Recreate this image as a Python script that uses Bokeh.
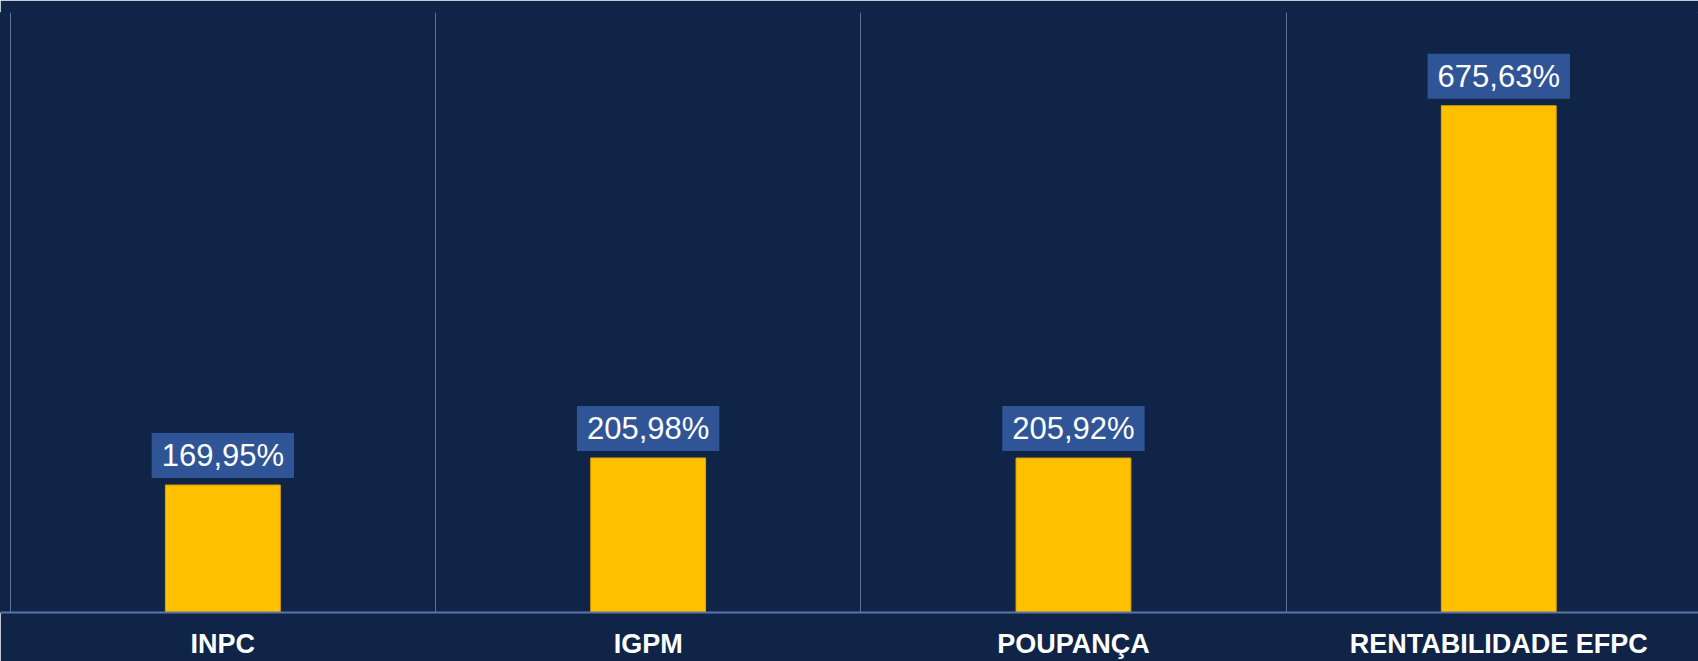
from bokeh.plotting import figure
from bokeh.models import ColumnDataSource, Range1d, FixedTicker
from bokeh.core.properties import value
from bokeh.embed import file_html
from bokeh.resources import INLINE

categories = ["INPC", "IGPM", "POUPANÇA", "RENTABILIDADE EFPC"]
values = [169.95, 205.98, 205.92, 675.63]
value_labels = ["169,95%", "205,98%", "205,92%", "675,63%"]

centers = [i + 0.5 for i in range(len(categories))]
src = ColumnDataSource(dict(x=centers, v=values, lbl=value_labels, cat=categories))

BG = "#0f2447"
px_per_unit = 425.3
W, H = 1698, 661
start = -9.7 / px_per_unit

p = figure(width=W, height=H, output_backend="svg", toolbar_location=None,
           x_range=Range1d(start, start + W / px_per_unit), y_range=Range1d(0, 800),
           y_axis_location=None, min_border_left=0, min_border_right=0,
           min_border_top=12, min_border_bottom=49)
p.background_fill_color = BG
p.border_fill_color = BG
p.outline_line_color = BG
p.outline_line_width = 1

p.ygrid.grid_line_color = None
p.xgrid.ticker = FixedTicker(ticks=[0, 1, 2, 3, 4])
p.xgrid.grid_line_color = "#5f7196"
p.xgrid.grid_line_width = 1

p.vbar(x="x", top="v", width=0.27, bottom=0, source=src,
       fill_color="#FFC000", line_color="#E0A800", line_width=1)

p.text(x="x", y="v", text="lbl", source=src,
       text_font=value("Liberation Sans"), text_font_size="31px",
       text_color="white", text_align="center", text_baseline="bottom",
       y_offset=-7, background_fill_color="#2F5597", padding=(10, 5))

xa = p.xaxis[0]
xa.ticker = FixedTicker(ticks=centers)
xa.major_label_overrides = {c: t for c, t in zip(centers, categories)}
xa.axis_line_color = "#5b76a8"
xa.axis_line_width = 2
xa.major_tick_line_color = None
xa.minor_tick_line_color = None
xa.major_label_standoff = 10
xa.major_label_text_font = "Liberation Sans"
xa.major_label_text_font_style = "bold"
xa.major_label_text_font_size = "27px"
xa.major_label_text_color = "white"

html = file_html(p, INLINE)
html = html.replace("<body>", '<body style="background-color: %s;">' % BG, 1)
open("out.html", "w").write(html)
